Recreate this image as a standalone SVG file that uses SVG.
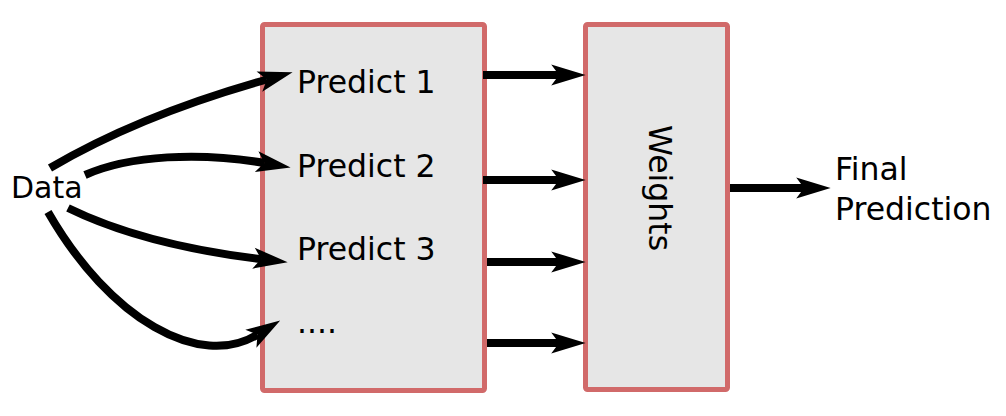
<svg xmlns="http://www.w3.org/2000/svg" width="1006" height="416" viewBox="0 0 1006 416">
<style>
.box{fill:#e6e6e6;stroke:#d16a6a;stroke-width:5}
.lbl{font-family:"DejaVu Sans",sans-serif;font-size:31.5px;fill:#000}
.ed{fill:none;stroke:#000;stroke-width:8}
</style>
<defs>
<marker id="ah" markerUnits="userSpaceOnUse" markerWidth="40" markerHeight="30" viewBox="-2 -12 36 24" refX="7" refY="0" orient="auto" overflow="visible">
<path d="M0,-9.5 L31,0 L0,9.5 L7,0 Z" fill="#000"/>
</marker>
</defs>
<rect width="1006" height="416" fill="#fff"/>
<g id="ensemble">
<rect class="box" x="262.5" y="24.5" width="222" height="366" rx="2"/>
<text class="lbl" x="297" y="93">Predict 1</text>
<text class="lbl" x="297" y="177">Predict 2</text>
<text class="lbl" x="297" y="260">Predict 3</text>
<text class="lbl" x="297" y="333">....</text>
</g>
<g id="weights">
<rect class="box" x="585.5" y="24.5" width="142" height="365" rx="2"/>
<text class="lbl" transform="translate(649,188) rotate(90)" text-anchor="middle">Weights</text>
</g>
<g id="data">
<text class="lbl" x="11" y="198" style="font-size:30px">Data</text>
</g>
<g id="final">
<text class="lbl" x="835" y="180">Final</text>
<text class="lbl" x="835" y="220">Prediction</text>
</g>
<g id="connectors">
<path class="ed" d="M50,168 Q140,115 266.9,79.5" marker-end="url(#ah)"/>
<path class="ed" d="M85,175 C130,155 200,152 264.3,163" marker-end="url(#ah)"/>
<path class="ed" d="M68,208 Q143.5,245 261.2,259.1" marker-end="url(#ah)"/>
<path class="ed" d="M48,212 C110,320 200,370 257.5,334.6" marker-end="url(#ah)"/>
<path class="ed" d="M483,75 L559,75" marker-end="url(#ah)"/>
<path class="ed" d="M483,180 L559,180" marker-end="url(#ah)"/>
<path class="ed" d="M487,262 L559,262" marker-end="url(#ah)"/>
<path class="ed" d="M487,343 L559,343" marker-end="url(#ah)"/>
<path class="ed" d="M730,188 L804,188" marker-end="url(#ah)"/>
</g>
</svg>
